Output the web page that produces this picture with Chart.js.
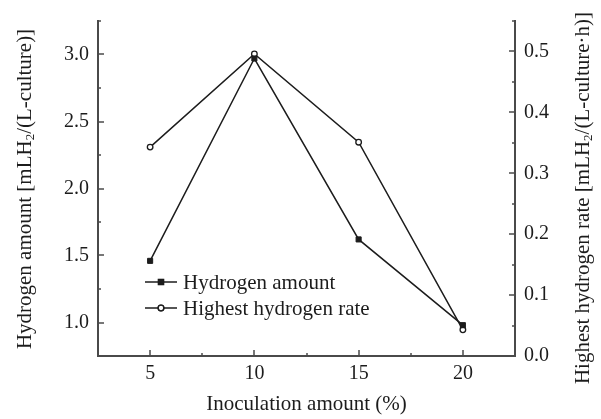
<!DOCTYPE html>
<html>
<head>
<meta charset="utf-8">
<script src="https://cdn.jsdelivr.net/npm/chart.js@4.4.1/dist/chart.umd.min.js"></script>
<style>
  html, body { margin: 0; padding: 0; background: #fff; }
  #wrap { width: 601px; height: 419px; }
</style>
</head>
<body>
<div id="wrap"><canvas id="chart-h2" width="601" height="419"></canvas></div>
<script>
// datos
const inoculation = [5, 10, 15, 20];
const hydrogenAmount = [1.46, 2.97, 1.62, 0.98];
const highestRate = [0.343, 0.496, 0.351, 0.043];

const xTicks = [5, 10, 15, 20];
const leftTicks = [1.0, 1.5, 2.0, 2.5, 3.0];
const rightTicks = [0.0, 0.1, 0.2, 0.3, 0.4, 0.5];

const INK = '#1c1c1c';
const AXIS = '#4a4a4a';
const SERIF = '"Liberation Serif", "Times New Roman", serif';

const toXY = (ys) => ys.map((y, i) => ({ x: inoculation[i], y: y }));

// ticks hacia dentro (mayores y menores) dibujados con las escalas
const innerTicks = {
  id: 'innerTicks',
  afterDatasetsDraw(chart) {
    const { ctx, chartArea: a, scales } = chart;
    ctx.save();
    ctx.strokeStyle = AXIS;
    ctx.lineWidth = 1.5;
    const line = (x1, y1, x2, y2) => { ctx.beginPath(); ctx.moveTo(x1, y1); ctx.lineTo(x2, y2); ctx.stroke(); };

    xTicks.forEach(v => {
      const px = Math.round(scales.x.getPixelForValue(v));
      line(px, a.bottom, px, a.bottom - 6);
      const m = Math.round(scales.x.getPixelForValue(v + 2.5));
      if (m < a.right - 2) line(m, a.bottom, m, a.bottom - 3);
    });
    leftTicks.forEach(v => {
      const py = Math.round(scales.y.getPixelForValue(v));
      line(a.left, py, a.left + 6, py);
      const m = Math.round(scales.y.getPixelForValue(v + 0.25));
      if (m >= a.top) line(a.left, m, a.left + 3, m);
    });
    rightTicks.forEach(v => {
      const py = Math.round(scales.y1.getPixelForValue(v));
      if (v > 0) line(a.right, py, a.right - 6, py);
      const m = Math.round(scales.y1.getPixelForValue(v + 0.05));
      if (m >= a.top) line(a.right, m, a.right - 3, m);
    });
    ctx.restore();
  }
};

// títulos verticales con subíndice
const drawRich = (ctx, parts, cx, cy, size) => {
  ctx.save();
  ctx.translate(cx, cy);
  ctx.rotate(-Math.PI / 2);
  ctx.fillStyle = INK;
  ctx.textBaseline = 'middle';
  ctx.textAlign = 'left';
  const fontOf = (p) => `${p.sub ? Math.round(size * 0.62) : size}px ${SERIF}`;
  let total = 0;
  parts.forEach(p => { ctx.font = fontOf(p); total += ctx.measureText(p.t).width; });
  let x = -total / 2;
  parts.forEach(p => {
    ctx.font = fontOf(p);
    ctx.fillText(p.t, x, p.sub ? size * 0.28 : 0);
    x += ctx.measureText(p.t).width;
  });
  ctx.restore();
};

const axisTitles = {
  id: 'axisTitles',
  afterDraw(chart) {
    const { ctx } = chart;
    drawRich(ctx, [{ t: 'Hydrogen amount [mLH' }, { t: '2', sub: true }, { t: '/(L-culture)]' }], 25, 189, 21);
    drawRich(ctx, [{ t: 'Highest hydrogen rate [mLH' }, { t: '2', sub: true }, { t: '/(L-culture\u00B7h)]' }], 583, 198, 21);
  }
};

// leyenda dentro del área del gráfico
const innerLegend = {
  id: 'innerLegend',
  afterDraw(chart) {
    const { ctx } = chart;
    ctx.save();
    chart.data.datasets.forEach((ds, i) => {
      const y = 282 + i * 26;
      ctx.strokeStyle = INK;
      ctx.lineWidth = 1.5;
      ctx.beginPath(); ctx.moveTo(145, y); ctx.lineTo(177, y); ctx.stroke();
      Chart.helpers.drawPoint(ctx, {
        pointStyle: ds.pointStyle, radius: ds.pointRadius, borderWidth: ds.pointBorderWidth
      }, 161, y);
      ctx.fillStyle = ds.pointBackgroundColor;
      ctx.strokeStyle = INK;
      ctx.lineWidth = ds.pointBorderWidth;
      ctx.beginPath();
      if (ds.pointStyle === 'rect') {
        const s = Math.SQRT1_2 * ds.pointRadius;
        ctx.rect(161 - s, y - s, 2 * s, 2 * s);
      } else {
        ctx.arc(161, y, ds.pointRadius, 0, Math.PI * 2);
      }
      ctx.fill(); ctx.stroke();
      ctx.fillStyle = INK;
      ctx.font = `21px ${SERIF}`;
      ctx.textBaseline = 'middle';
      ctx.fillText(ds.label, 183, y + 1);
    });
    ctx.restore();
  }
};

new Chart(document.getElementById('chart-h2'), {
  type: 'line',
  data: {
    datasets: [
      {
        label: 'Hydrogen amount',
        data: toXY(hydrogenAmount),
        yAxisID: 'y',
        borderColor: INK,
        borderWidth: 1.5,
        pointStyle: 'rect',
        pointRadius: 3.6,
        pointBorderWidth: 1,
        pointBackgroundColor: INK,
        pointBorderColor: INK,
        tension: 0
      },
      {
        label: 'Highest hydrogen rate',
        data: toXY(highestRate),
        yAxisID: 'y1',
        borderColor: INK,
        borderWidth: 1.5,
        pointStyle: 'circle',
        pointRadius: 2.8,
        pointBorderWidth: 1.3,
        pointBackgroundColor: '#fff',
        pointBorderColor: INK,
        tension: 0
      }
    ]
  },
  options: {
    responsive: false,
    animation: false,
    layout: { padding: { top: 11, left: 0, right: 0, bottom: 0 } },
    scales: {
      x: {
        type: 'linear',
        min: 2.5,
        max: 22.5,
        afterBuildTicks: s => { s.ticks = xTicks.map(v => ({ value: v })); },
        afterFit: s => { s.height = 63; },
        grid: { display: false, drawTicks: false },
        border: { display: true, color: AXIS, width: 2 },
        ticks: { color: INK, font: { family: SERIF, size: 20 }, padding: 6 },
        title: { display: true, text: 'Inoculation amount (%)', color: INK, font: { family: SERIF, size: 21 }, padding: { top: 0, bottom: 2 } }
      },
      y: {
        position: 'left',
        min: 0.75,
        max: 3.25,
        afterBuildTicks: s => { s.ticks = leftTicks.map(v => ({ value: v })); },
        afterFit: s => { s.width = 98; },
        grid: { display: false, drawTicks: false },
        border: { display: true, color: AXIS, width: 2 },
        ticks: { color: INK, font: { family: SERIF, size: 20 }, padding: 9, callback: v => v.toFixed(1) }
      },
      y1: {
        position: 'right',
        min: 0,
        max: 0.55,
        afterBuildTicks: s => { s.ticks = rightTicks.map(v => ({ value: v })); },
        afterFit: s => { s.width = 86; },
        grid: { display: false, drawTicks: false },
        border: { display: true, color: AXIS, width: 2 },
        ticks: { color: INK, font: { family: SERIF, size: 20 }, padding: 9, callback: v => v.toFixed(1) }
      }
    },
    plugins: {
      legend: { display: false },
      tooltip: { enabled: false }
    }
  },
  plugins: [innerTicks, axisTitles, innerLegend]
});
</script>
</body>
</html>
